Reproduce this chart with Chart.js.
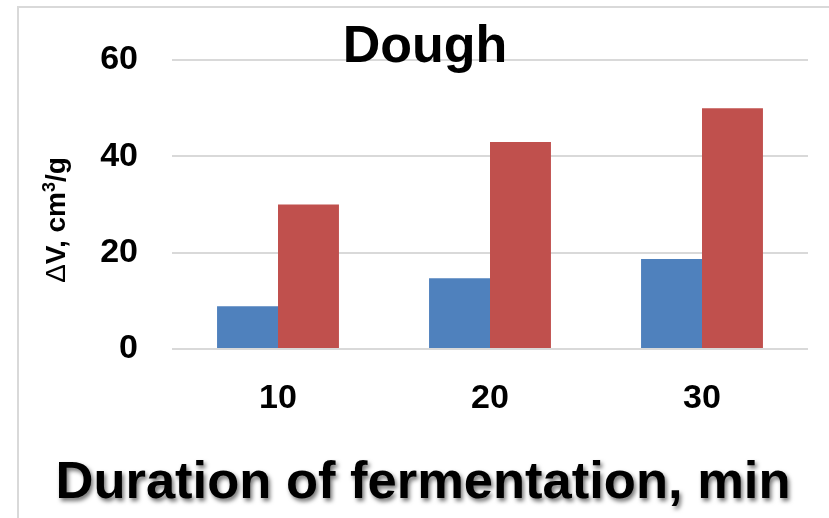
<!DOCTYPE html>
<html>
<head>
<meta charset="utf-8">
<script src="https://cdn.jsdelivr.net/npm/chart.js@4.4.1/dist/chart.umd.min.js"></script>
<style>
  html, body { margin: 0; padding: 0; background: #fff; overflow: hidden; }
  #frame { position: absolute; left: 17px; top: 6px; width: 900px; height: 600px; border: 2px solid #d9d9d9; }
  #myChart { position: absolute; left: 0; top: 0; }
</style>
</head>
<body>
<div id="frame"></div>
<canvas id="myChart" width="829" height="518"></canvas>
<script>
const categories = ['10', '20', '30'];
const blueValues = [8.9, 14.7, 18.7];
const redValues = [30, 43, 50];
const yTicks = [0, 20, 40, 60];

const chartTitle = 'Dough';
const xTitle = 'Duration of fermentation, min';

// titles are drawn by hand: they overlap the plot and the x title has a shadow
const textPlugin = {
    id: 'texts',
    afterDraw(chart) {
        const ctx = chart.ctx;
        ctx.save();
        ctx.fillStyle = '#000';
        ctx.textBaseline = 'alphabetic';

        ctx.textAlign = 'center';
        ctx.font = 'bold 52px "Liberation Sans", Arial, sans-serif';
        ctx.fillText(chartTitle, 425, 62);

        ctx.save();
        ctx.shadowColor = 'rgba(0,0,0,0.55)';
        ctx.shadowOffsetX = 2;
        ctx.shadowOffsetY = 3;
        ctx.shadowBlur = 4;
        ctx.font = 'bold 52.5px "Liberation Sans", Arial, sans-serif';
        ctx.fillText(xTitle, 423, 498);
        ctx.restore();

        // y title, rotated, with normal Δ and superscript 3
        const parts = [
            { t: 'Δ', f: '28px "Liberation Sans", Arial, sans-serif', dy: 0 },
            { t: 'V, cm', f: 'bold 28px "Liberation Sans", Arial, sans-serif', dy: 0 },
            { t: '3', f: 'bold 18px "Liberation Sans", Arial, sans-serif', dy: -10 },
            { t: '/g', f: 'bold 28px "Liberation Sans", Arial, sans-serif', dy: 0 }
        ];
        let total = 0;
        parts.forEach(p => { ctx.font = p.f; p.w = ctx.measureText(p.t).width; total += p.w; });
        ctx.translate(65, 220);
        ctx.rotate(-Math.PI / 2);
        ctx.textAlign = 'left';
        let x = -total / 2;
        parts.forEach(p => {
            ctx.font = p.f;
            ctx.fillText(p.t, x, p.dy);
            x += p.w;
        });
        ctx.restore();
    }
};

const ctx = document.getElementById('myChart');
new Chart(ctx, {
    type: 'bar',
    data: {
        labels: categories,
        datasets: [{
            label: 'Series 1',
            data: blueValues,
            backgroundColor: '#4f81bd',
            borderWidth: 0
        }, {
            label: 'Series 2',
            data: redValues,
            backgroundColor: '#c0504d',
            borderWidth: 0
        }]
    },
    options: {
        responsive: false,
        animation: false,
        devicePixelRatio: 1,
        categoryPercentage: 0.575,
        barPercentage: 1,
        layout: { padding: { top: 60, right: 21, left: 0, bottom: 0 } },
        plugins: {
            legend: { display: false },
            title: { display: false },
            tooltip: { enabled: false }
        },
        scales: {
            x: {
                grid: { display: false },
                border: { display: false },
                ticks: {
                    color: '#000',
                    padding: 21,
                    font: { family: '"Liberation Sans", Arial, sans-serif', size: 34, weight: 'bold', lineHeight: 1.2 }
                },
                afterFit: s => { s.height = 169; }
            },
            y: {
                min: 0,
                max: 60,
                afterBuildTicks: s => { s.ticks = yTicks.map(v => ({ value: v })); },
                grid: { color: '#d9d9d9', lineWidth: 2, drawTicks: false },
                border: { display: false },
                ticks: {
                    color: '#000',
                    padding: 34,
                    font: { family: '"Liberation Sans", Arial, sans-serif', size: 34, weight: 'bold' }
                },
                afterFit: s => { s.width = 172; }
            }
        }
    },
    plugins: [textPlugin]
});
</script>
</body>
</html>
